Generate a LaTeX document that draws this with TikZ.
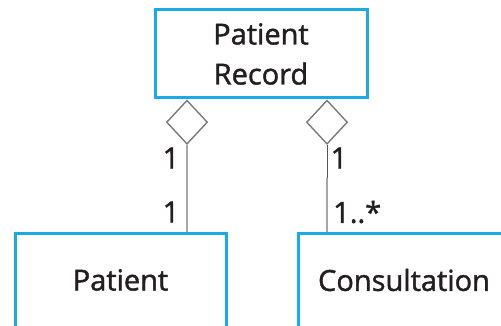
\documentclass[tikz,border=0pt]{standalone}
\usepackage{fontspec}
\setmainfont{Open Sans}
\newfontfamily\classfont{Open Sans}[FakeBold=1.4]
\usetikzlibrary{shapes.geometric}
\definecolor{classblue}{HTML}{1AAAE6}
\definecolor{textdark}{HTML}{231F20}
\definecolor{linkgray}{HTML}{A6A6A6}
\definecolor{diagray}{HTML}{7A7A7A}
\begin{document}
\begin{tikzpicture}[x=1pt,y=-1pt,
  classbox/.style={draw=classblue,line width=3pt,inner sep=0pt,fill=white,
    text=textdark,font=\classfont\fontsize{29}{40}\selectfont,align=center},
  aggdiamond/.style={diamond,draw=diagray,line width=1.4pt,fill=white,
    inner sep=0pt,minimum width=41pt,minimum height=44pt,anchor=north},
  link/.style={draw=linkgray,line width=2pt},
  linkdark/.style={draw=diagray!70!black,line width=1pt},
  mult/.style={text=textdark,font=\classfont\fontsize{29}{30}\selectfont,inner sep=0pt}]
\useasboundingbox (0,0) rectangle (501,326);
\clip (0,0) rectangle (501,326);
% classes
\node[classbox,minimum width=212pt,minimum height=88pt] (rec) at (261,54) {Patient\\Record};
\node[classbox,minimum width=211pt,minimum height=94pt] (pat) at (120.5,280) {Patient};
\node[classbox,minimum width=212pt,minimum height=94pt,text width=200pt] (con) at (404,280) {Consultation};
% aggregation diamonds on the record
\node[aggdiamond] (d1) at (187,99.5) {};
\node[aggdiamond] (d2) at (327,99.5) {};
% links
\coordinate (m2) at (327,178);
\draw[link] (d1.south) -- (d1.south |- pat.north);
\draw[link] (m2) -- (m2 |- con.north);
\draw[linkdark] (d2.south) -- (m2);
% multiplicities
\node[mult] (a1) at (171,158) {1};
\node[mult] (a2) at (171,212) {1};
\node[mult] (b1) at (339,158) {1};
\node[mult,anchor=west] (b2) at (333,212) {1..*};
\end{tikzpicture}
\end{document}
